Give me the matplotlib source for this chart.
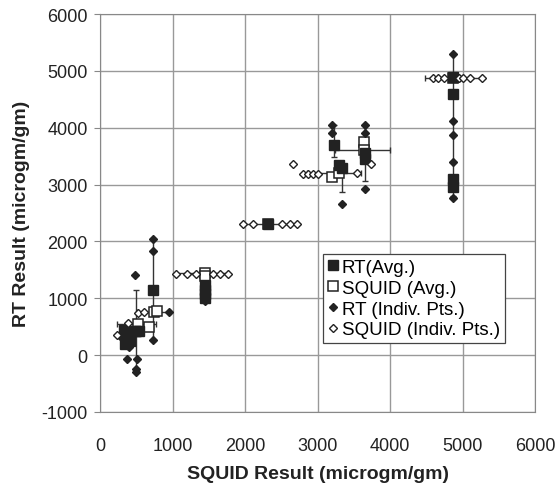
import numpy as np
import matplotlib
matplotlib.use('Agg')
import matplotlib.pyplot as plt

plt.rcParams['font.family'] = ['Liberation Sans', 'DejaVu Sans']
plt.rcParams['axes.unicode_minus'] = False

# RT averages (filled squares), x = SQUID avg, y = RT avg
rt_avg_x = [735, 497, 330, 380, 420, 480, 540, 350, 1450, 1450, 1450, 1450,
            2320, 3230, 3333, 3300, 3655, 3655, 4864, 4864, 4864, 4864]
rt_avg_y = [1150, 420, 450, 350, 250, 430, 420, 200, 1230, 1150, 1080, 1000,
            2300, 3690, 3300, 3350, 3450, 3550, 4900, 4600, 3100, 2960]
rt_err_lo = [900, 700, 0, 0, 0, 0, 0, 0, 0, 0, 0, 0,
             0, 200, 430, 0, 380, 0, 0, 1800, 0, 0]
rt_err_hi = [900, 730, 0, 0, 0, 0, 0, 0, 0, 0, 0, 0,
             0, 360, 0, 0, 600, 0, 0, 700, 0, 0]

# SQUID averages (open squares)
sq_avg_x = [520, 680, 740, 780, 1450, 1450, 2320, 3200, 3300, 3640, 3640, 4870]
sq_avg_y = [540, 500, 760, 780, 1450, 1400, 2300, 3140, 3200, 3750, 3600, 4880]
sq_err_lo = [290, 0, 230, 0, 400, 0, 350, 0, 450, 0, 400, 390]
sq_err_hi = [250, 0, 220, 0, 320, 0, 400, 0, 300, 0, 360, 400]

# RT individual points (filled diamonds)
rt_pts_x = [485, 368, 504, 497, 497, 300, 400, 735, 735, 735, 950,
            1450, 1450, 3195, 3195, 3333, 3333, 3655, 3655, 3655,
            4864, 4864, 4864, 4864, 4864, 4864]
rt_pts_y = [1415, -61, -61, -237, -290, 300, 150, 2048, 1831, 260, 750,
            1000, 950, 4050, 3900, 2660, 3300, 4050, 3900, 2925,
            5300, 4116, 3875, 3395, 2768, 4900]

# SQUID individual points (open diamonds)
sq_pts_x = [230, 380, 524, 600,
            1050, 1200, 1330, 1560, 1655, 1770,
            1975, 2115, 2506, 2620, 2720,
            2667, 2805, 2870, 2940, 3010, 3545, 3734,
            4597, 4662, 4750, 4950, 5000, 5103, 5265]
sq_pts_y = [348, 560, 747, 750,
            1420, 1420, 1420, 1420, 1420, 1420,
            2300, 2300, 2300, 2300, 2300,
            3355, 3190, 3190, 3190, 3190, 3207, 3355,
            4870, 4870, 4870, 4870, 4870, 4870, 4870]

fig = plt.figure(figsize=(5.6, 4.85), dpi=100)
ax = fig.add_axes([0.1786, 0.1485, 0.7768, 0.8205])

ax.errorbar(rt_avg_x, rt_avg_y, yerr=[rt_err_lo, rt_err_hi], fmt='none',
            ecolor='#333333', elinewidth=1.0, capsize=2.5, zorder=2)
ax.errorbar(sq_avg_x, sq_avg_y, xerr=[sq_err_lo, sq_err_hi], fmt='none',
            ecolor='#333333', elinewidth=1.0, capsize=2.5, zorder=2)

ax.plot(sq_avg_x, sq_avg_y, 's', ms=7.5, mfc='white', mec='#222222', mew=1.1,
        zorder=3, label='SQUID (Avg.)')
ax.plot(rt_avg_x, rt_avg_y, 's', ms=7.5, mfc='#222222', mec='#222222',
        zorder=4, label='RT(Avg.)')
ax.plot(rt_pts_x, rt_pts_y, 'D', ms=4.5, mfc='#222222', mec='#222222',
        zorder=5, label='RT (Indiv. Pts.)')
ax.plot(sq_pts_x, sq_pts_y, 'D', ms=4.5, mfc='white', mec='#222222', mew=1.0,
        zorder=5, label='SQUID (Indiv. Pts.)')

ax.set_xlim(0, 6000)
ax.set_ylim(-1000, 6000)
ax.set_xticks(np.arange(0, 6001, 1000))
ax.set_yticks(np.arange(-1000, 6001, 1000))
ax.grid(True, color='#999999', linewidth=1.0)
ax.set_axisbelow(True)
for s in ax.spines.values():
    s.set_color('#888888')
ax.tick_params(axis='y', length=4, color='#888888', labelsize=13,
               labelcolor='#222222', pad=5)
ax.tick_params(axis='x', length=0, labelsize=13, labelcolor='#222222', pad=18)

ax.set_xlabel('SQUID Result (microgm/gm)', fontsize=14, fontweight='bold',
              color='#222222', labelpad=8)
ax.set_ylabel('RT Result (microgm/gm)', fontsize=14, fontweight='bold',
              color='#222222', labelpad=8)

h, l = ax.get_legend_handles_labels()
order = [1, 0, 2, 3]
leg = ax.legend([h[i] for i in order], [l[i] for i in order],
                loc='upper left', bbox_to_anchor=(0.513, 0.397), fontsize=13.5,
                frameon=True, fancybox=False, framealpha=1, edgecolor='#444444',
                handlelength=0.5, handletextpad=0.25, borderpad=0.25,
                labelspacing=0.2, borderaxespad=0)
leg.get_frame().set_linewidth(0.9)

fig.savefig('out.png', dpi=100)
